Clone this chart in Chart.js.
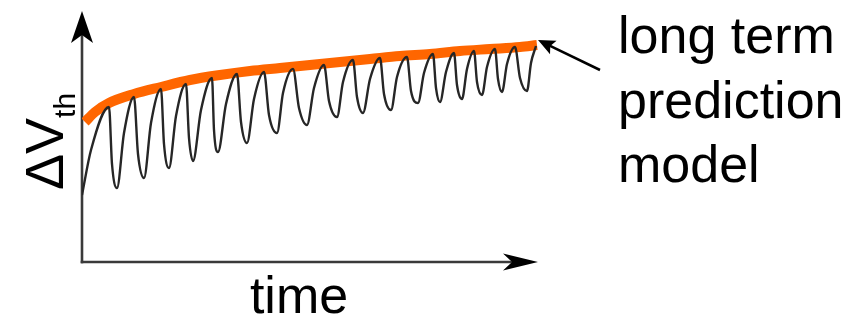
<!DOCTYPE html>
<html>
<head>
<meta charset="utf-8">
<script src="https://cdn.jsdelivr.net/npm/chart.js@4.4.1/dist/chart.umd.min.js"></script>
<style>
  html, body { margin: 0; padding: 0; background: #fff; overflow: hidden; }
  canvas { display: block; }
</style>
</head>
<body>
<canvas id="c" width="866" height="321"></canvas>
<script>
// Threshold-voltage shift under repeated stress / recovery cycles
// (trough -> mid-rise -> peak -> mid-drop -> trough ...)
const cycleTime = [
  0, 9, 27, 30, 35, 42, 52, 56, 62, 69, 79, 82, 87, 94, 104, 107, 111, 119, 130, 132,
  136, 144, 155, 159, 165, 172, 182, 187, 195, 201, 211, 217, 225, 232, 242, 247, 255, 261, 271, 275,
  281, 288, 298, 302, 309, 315, 325, 329, 336, 342, 351, 354, 358, 364, 372, 375, 380, 385, 392, 395,
  400, 405, 413, 416, 420, 425, 433, 438, 445, 449, 454
];
const cycleShift = [
  67, 112, 155, 98, 74, 129, 165, 108, 84, 139, 173, 118, 94, 146, 178, 124, 101, 152, 184, 132,
  110, 158, 188, 140, 119, 163, 190, 147, 129, 169, 193, 154, 137, 174, 197, 161, 145, 180, 202, 165,
  149, 183, 204, 168, 152, 185, 205, 171, 159, 189, 208, 174, 160, 190, 209, 177, 163, 193, 211, 180,
  167, 195, 213, 183, 170, 198, 215, 184, 171, 199, 216
];

// Long term prediction model (upper envelope)
const trendTime  = [3, 13, 27, 52, 79, 108, 138, 168, 198, 228, 258, 288, 318, 348, 378, 408, 438, 455];
const trendShift = [140, 150, 159, 168, 175, 182, 187, 191, 194, 197, 200, 203, 206, 208, 211, 213, 215, 217];

const xAxisLabel = 'time';
const yAxisMain = 'ΔV';
const yAxisSub = 'th';
const noteLines = ['long term', 'prediction', 'model'];

const FONT = '"Liberation Sans", Arial, Helvetica, sans-serif';

function pairs(xs, ys) {
  return xs.map((v, i) => ({ x: v, y: ys[i] }));
}

// filled "stealth" arrowhead pointing along (dx, dy)
function stealth(ctx, tx, ty, dx, dy, len, half, notchRatio) {
  const bx = tx - dx * len, by = ty - dy * len;
  const nx = -dy, ny = dx;
  const nLen = len * notchRatio;
  ctx.beginPath();
  ctx.moveTo(tx, ty);
  ctx.lineTo(bx + nx * half, by + ny * half);
  ctx.lineTo(tx - dx * nLen, ty - dy * nLen);
  ctx.lineTo(bx - nx * half, by - ny * half);
  ctx.closePath();
  ctx.fill();
}

const decor = {
  id: 'decor',
  beforeDatasetsDraw(chart) {
    const { ctx, scales: { x, y } } = chart;
    const x0 = x.getPixelForValue(x.min);
    const y0 = y.getPixelForValue(y.min);
    const xEnd = x.getPixelForValue(x.max);
    const yTop = y.getPixelForValue(y.max);
    ctx.save();
    ctx.strokeStyle = '#3a3a3a';
    ctx.lineWidth = 2.6;
    ctx.beginPath();
    ctx.moveTo(x0, y0 + 1.3);
    ctx.lineTo(x0, yTop + 22);
    ctx.stroke();
    ctx.beginPath();
    ctx.moveTo(x0 - 1.3, y0);
    ctx.lineTo(xEnd - 22, y0);
    ctx.stroke();
    ctx.fillStyle = '#000';
    stealth(ctx, x0, yTop, 0, -1, 32, 11, 0.75);
    stealth(ctx, xEnd, y0, 1, 0, 35, 8.5, 0.74);
    ctx.restore();
  },
  afterDatasetsDraw(chart) {
    const { ctx, scales: { x, y } } = chart;
    ctx.save();
    ctx.fillStyle = '#000';
    ctx.textBaseline = 'alphabetic';

    // x axis title
    ctx.font = '52px ' + FONT;
    ctx.textAlign = 'center';
    ctx.fillText(xAxisLabel, 299, 313);

    // y axis title with subscript
    ctx.save();
    ctx.translate(63, 190);
    ctx.rotate(-Math.PI / 2);
    ctx.textAlign = 'left';
    ctx.font = '54px ' + FONT;
    ctx.fillText(yAxisMain, 0, 0);
    const w = ctx.measureText(yAxisMain).width;
    ctx.font = '30px ' + FONT;
    ctx.fillText(yAxisSub, w, 12);
    ctx.restore();

    // note text
    ctx.font = '52px ' + FONT;
    ctx.textAlign = 'left';
    const base = [53, 118, 182];
    noteLines.forEach((t, i) => ctx.fillText(t, 618, base[i]));

    // pointer to the end of the prediction curve
    const n = trendTime.length - 1;
    const tipX = x.getPixelForValue(trendTime[n]) + 1;
    const tipY = y.getPixelForValue(trendShift[n]) - 5;
    const tailX = tipX + 62, tailY = tipY + 30;
    const len = Math.hypot(tailX - tipX, tailY - tipY);
    const dx = (tipX - tailX) / len, dy = (tipY - tailY) / len;
    ctx.strokeStyle = '#000';
    ctx.lineWidth = 2.5;
    ctx.beginPath();
    ctx.moveTo(tailX, tailY);
    ctx.lineTo(tipX - dx * 10, tipY - dy * 10);
    ctx.stroke();
    stealth(ctx, tipX, tipY, dx, dy, 17, 7.5, 0.8);
    ctx.restore();
  }
};

new Chart(document.getElementById('c'), {
  type: 'line',
  data: {
    datasets: [
      {
        label: 'ΔVth',
        data: pairs(cycleTime, cycleShift),
        borderColor: '#262626',
        borderWidth: 2.4,
        pointRadius: 0,
        cubicInterpolationMode: 'monotone',
        fill: false
      },
      {
        label: 'long term prediction model',
        data: pairs(trendTime, trendShift),
        borderColor: '#ff6600',
        borderWidth: 10,
        borderCapStyle: 'butt',
        pointRadius: 0,
        cubicInterpolationMode: 'monotone',
        fill: false
      }
    ]
  },
  options: {
    responsive: false,
    animation: false,
    devicePixelRatio: 1,
    layout: { padding: { left: 82, right: 328, top: 11, bottom: 59 } },
    scales: {
      x: { type: 'linear', min: 0, max: 456, display: false },
      y: { type: 'linear', min: 0, max: 251, display: false }
    },
    plugins: {
      legend: { display: false },
      tooltip: { enabled: false }
    },
    elements: { line: { borderJoinStyle: 'round' } }
  },
  plugins: [decor]
});
</script>
</body>
</html>
